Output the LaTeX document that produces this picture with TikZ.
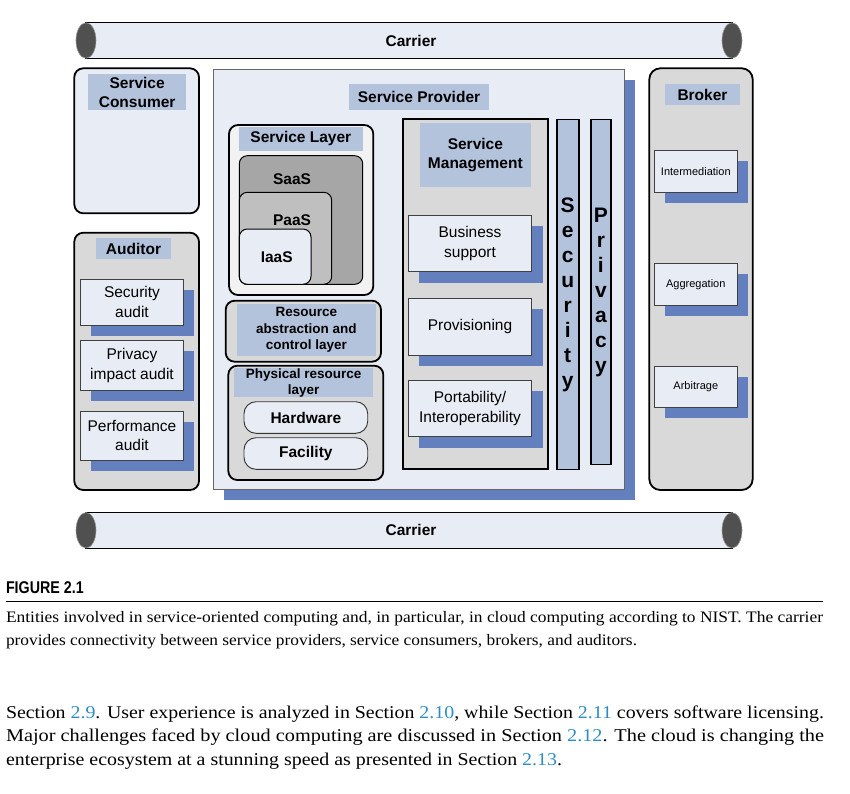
\documentclass[tikz,border=0pt]{standalone}
\usepackage{graphicx}
\usepackage{fontspec}
\setmainfont{Liberation Serif}
\newfontfamily\arialf{Liberation Sans}
\usetikzlibrary{shapes.geometric}
\definecolor{cLight}{RGB}{232,236,245}
\definecolor{cLabel}{RGB}{180,195,220}
\definecolor{cShadow}{RGB}{100,127,190}
\definecolor{cGray}{RGB}{217,217,217}
\definecolor{cSaaS}{RGB}{166,166,166}
\definecolor{cPaaS}{RGB}{191,191,191}
\definecolor{cCap}{RGB}{80,80,80}
\definecolor{cLayer}{RGB}{242,242,242}
\definecolor{cLink}{RGB}{45,140,195}
% box by corners: name, style, x1, y1, x2, y2, text
\newcommand\bx[7]{\node[#2,minimum width={(#5)-(#3)},minimum height={(#6)-(#4)}] (#1) at ({((#3)+(#5))/2},{((#4)+(#6))/2}) {#7};}
% item with shadow: name, x1, y1, x2, y2, offset, style, text
\newcommand\itm[8]{\fill[cShadow] ({(#2)+(#6)},{(#3)+(#6)}) rectangle ({(#4)+(#6)},{(#5)+(#6)});
  \bx{#1}{itembox,#7}{#2}{#3}{#4}{#5}{#8}}
\tikzset{
  every node/.style={inner sep=0pt,outer sep=0pt,font=\arialf},
  heavybox/.style={draw=black,line width=1.8pt,rounded corners=9pt},
  lbl/.style={fill=cLabel,align=center,font=\arialf\bfseries\fontsize{15.5}{19}\selectfont},
  smalllbl/.style={fill=cLabel,align=center,font=\arialf\bfseries\fontsize{13.5}{16.5}\selectfont},
  itembox/.style={draw=black!75,line width=0.9pt,fill=cLight,align=center,font=\arialf\fontsize{15.5}{19.5}\selectfont},
  brokeritem/.style={font=\arialf\fontsize{11}{13}\selectfont},
  layerbox/.style={draw=black,line width=1pt,rounded corners=8pt},
  pill/.style={draw=black!80,line width=0.9pt,fill=cLight,rounded corners=12pt,font=\arialf\bfseries\fontsize{15.5}{19}\selectfont},
  boldtxt/.style={font=\arialf\bfseries\fontsize{15.5}{19}\selectfont},
  bar/.style={fill=cLabel,draw=black,line width=1.6pt},
  bartxt/.style={align=center,font=\arialf\bfseries\fontsize{21}{25}\selectfont},
  pipeend/.style={ellipse,fill=cCap,draw=cCap!60,line width=0.6pt,minimum width=20pt,minimum height=35.5pt},
  pipe/.style={fill=cLight,draw=black,line width=1.1pt},
}
\begin{document}
\begin{tikzpicture}[x=1pt,y=-1pt]
\useasboundingbox (0,0) rectangle (850,793);

% ---------- Carriers ----------
\bx{carrTop}{pipe}{86}{22.8}{732}{58.3}{}
\node[pipeend] (capTL) at (86,40.5) {};
\node[pipeend] (capTR) at (732,40.5) {};
\node[boldtxt] (carrTopT) at (411,40.5) {Carrier};

\bx{carrBot}{pipe}{86}{512.3}{732}{548.3}{}
\node[pipeend] (capBL) at (86,530.3) {};
\node[pipeend] (capBR) at (732,530.3) {};
\node[boldtxt] (carrBotT) at (411,530.3) {Carrier};

% ---------- Service Consumer ----------
\bx{consumer}{heavybox,fill=cLight}{74.3}{68.3}{199}{213.3}{}
\bx{consumerL}{lbl}{88.3}{74}{186}{110}{Service\\Consumer}

% ---------- Auditor ----------
\bx{auditor}{heavybox,fill=cGray}{74.3}{232.7}{199}{490}{}
\bx{auditorL}{lbl}{96}{238.3}{171}{259.3}{Auditor}
\itm{secaudit}{80.7}{279.3}{183.3}{325}{10.5}{}{Security\\audit}
\itm{privaudit}{80.7}{340.7}{183.3}{390}{10.5}{}{Privacy\\impact audit}
\itm{perfaudit}{80.7}{411}{183.3}{460}{10.5}{}{Performance\\audit}

% ---------- Service Provider ----------
\fill[cShadow] (223.5,79.5) rectangle (635,500);
\bx{provider}{fill=cLight,draw=black!60,line width=1pt}{213.3}{69.3}{624.3}{489.3}{}
\bx{providerL}{lbl}{349}{84}{489}{110}{Service Provider}

% Service layer
\bx{slayer}{heavybox,fill=cLayer}{229}{125}{373.3}{295}{}
\bx{slayerL}{lbl}{239}{126.7}{362.7}{150.7}{Service Layer}
\bx{saas}{layerbox,fill=cSaaS}{239.3}{155.7}{362.7}{284.3}{}
\node[boldtxt] (saasT) at (292,179.3) {SaaS};
\bx{paas}{layerbox,fill=cPaaS}{239.3}{192.3}{331.7}{284.3}{}
\node[boldtxt] (paasT) at (292,220) {PaaS};
\bx{iaas}{layerbox,fill=cLight}{239.3}{229}{311}{284.3}{}
\node[boldtxt] (iaasT) at (276.7,256.7) {IaaS};

% Resource abstraction
\bx{rabs}{heavybox,fill=cGray}{225.7}{300.7}{381}{361.7}{}
\bx{rabsL}{smalllbl}{236.7}{304}{376}{356}{Resource\\abstraction and\\control layer}

% Physical resource layer
\bx{phys}{heavybox,fill=cGray}{228.3}{365.7}{383.3}{480}{}
\bx{physL}{smalllbl,font=\arialf\bfseries\fontsize{13.5}{16}\selectfont}{234}{368.3}{373.3}{397.3}{Physical resource\\layer}
\bx{hardware}{pill}{244}{401.7}{367.7}{433.3}{Hardware}
\bx{facility}{pill}{244}{437.7}{367.7}{469.3}{Facility}

% Service management
\bx{smgmt}{fill=cGray,draw=black,line width=1.8pt}{402.7}{119.3}{547.7}{469.3}{}
\bx{smgmtL}{lbl}{420}{123.3}{530.7}{186.7}{Service\\Management}
\itm{business}{408.3}{215}{531.7}{271.7}{11}{}{Business\\support}
\itm{provisioning}{408.3}{298.3}{531.7}{355}{11}{}{Provisioning}
\itm{portability}{408.3}{380}{531.7}{436.7}{11}{}{Portability/\\Interoperability}

% Security and privacy bars
\bx{security}{bar}{556.7}{119.3}{578.7}{469.3}{}
\node[bartxt] (securityT) at (567.7,294.5) {S\\e\\c\\u\\r\\i\\t\\y};
\bx{privacy}{bar}{590.7}{119.3}{611}{464.3}{}
\node[bartxt] (privacyT) at (600.9,292.5) {P\\r\\i\\v\\a\\c\\y};

% ---------- Broker ----------
\bx{broker}{heavybox,fill=cGray,rounded corners=11pt}{649.3}{68.3}{752.7}{490}{}
\bx{brokerL}{lbl}{665}{84}{740}{105}{Broker}
\itm{intermed}{654.3}{150.7}{737.3}{192.3}{10.7}{brokeritem}{Intermediation}
\itm{aggreg}{654.3}{263.3}{737.3}{305}{10.7}{brokeritem}{Aggregation}
\itm{arbit}{654.3}{366}{737.3}{407.7}{10.7}{brokeritem}{Arbitrage}

% ---------- Caption ----------
\node[anchor=base west,font=\arialf\bfseries\fontsize{17}{20}\selectfont] (figlabel) at (6,593.3) {\scalebox{0.84}[1]{FIGURE 2.1}};
\coordinate (ruleL) at (6,601.7);
\coordinate (ruleR) at (823,601.7);
\draw[line width=1pt] (ruleL) -- (ruleR);
\node[anchor=base west,font=\fontsize{16}{20}\selectfont] (cap1) at (6,622.3) {\resizebox{817pt}{\height}{Entities involved in service-oriented computing and, in particular, in cloud computing according to NIST. The carrier}};
\node[anchor=base west,font=\fontsize{16}{20}\selectfont] (cap2) at (6,645.7) {\resizebox{631pt}{\height}{provides connectivity between service providers, service consumers, brokers, and auditors.}};

% ---------- Body text ----------
\node[anchor=base west,font=\fontsize{18}{22}\selectfont] (body1) at (6,718) {\resizebox{818pt}{\height}{Section {\color{cLink}2.9}. User experience is analyzed in Section {\color{cLink}2.10}, while Section {\color{cLink}2.11} covers software licensing.}};
\node[anchor=base west,font=\fontsize{18}{22}\selectfont] (body2) at (6,741.5) {\resizebox{818pt}{\height}{Major challenges faced by cloud computing are discussed in Section {\color{cLink}2.12}. The cloud is changing the}};
\node[anchor=base west,font=\fontsize{18}{22}\selectfont] (body3) at (6,765.5) {\resizebox{556pt}{\height}{enterprise ecosystem at a stunning speed as presented in Section {\color{cLink}2.13}.}};
\end{tikzpicture}
\end{document}
